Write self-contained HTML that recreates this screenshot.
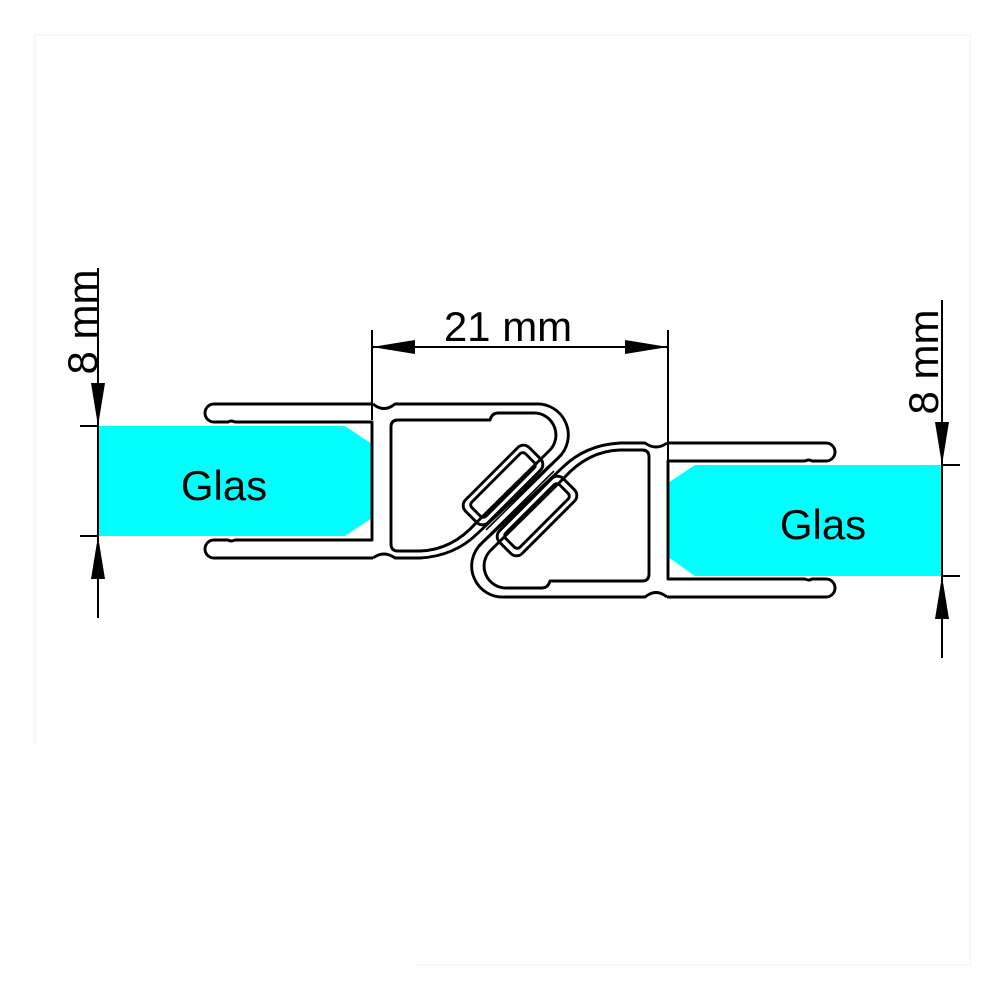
<!DOCTYPE html>
<html><head><meta charset="utf-8"><style>
html,body{margin:0;padding:0;background:#fff;}
svg{display:block;}
text{font-family:"Liberation Sans",Arial,sans-serif;fill:#000;}
</style></head><body>
<svg width="1000" height="1000" viewBox="0 0 1000 1000" xmlns="http://www.w3.org/2000/svg">
<rect width="1000" height="1000" fill="#fff"/>
<path d="M35 745 V35 H970 V965 H415" fill="none" stroke="#f2f2f2" stroke-width="1"/>
<!-- glass -->
<polygon points="98,426 345,426 372,444 372,518 345,536 98,536" fill="#00ffff"/>
<polygon points="942,465 695,465 668,483 668,557 695,576 942,576" fill="#00ffff"/>
<text x="224" y="500" font-size="42" text-anchor="middle">Glas</text>
<text x="823" y="539" font-size="42" text-anchor="middle">Glas</text>

<g id="half" fill="none" stroke="#000" stroke-width="2.9" stroke-linejoin="round">
  <path d="M373 404 H214 A9 9 0 0 0 214 422 H228 Q231 420 235 422 H372 V540 H235 Q231 542 228 540 H214 A9 9 0 0 0 214 558 H373"/>
  <path d="M373 404 Q384 413 395 404 H535 A31 31 0 0 1 558 458 L478 533 Q455 556 420 558 H395 Q384 550 373 558"/>
  <path d="M398 420 H490 Q492 413 498 413 H533 A22 22 0 0 1 549 451 L476 523 Q452 550 420 551 H398 Q391 551 391 544 V427 Q391 420 398 420 Z"/>
  <rect x="-45" y="-16" width="90" height="32" rx="8" transform="translate(503,485) rotate(-45)"/>
  <rect x="-38" y="-10" width="76" height="20" rx="4" transform="translate(503,485) rotate(-45)"/>
  <line x1="486" y1="530" x2="562" y2="455" stroke-width="1.6"/>
</g>
<use href="#half" transform="rotate(180 520 500.5)"/>

<g stroke="#000" stroke-width="2">
  <line x1="98" y1="268" x2="98" y2="618"/>
  <line x1="80" y1="426" x2="98" y2="426"/>
  <line x1="80" y1="536" x2="98" y2="536"/>
  <line x1="942" y1="300" x2="942" y2="658"/>
  <line x1="942" y1="465" x2="960" y2="465"/>
  <line x1="942" y1="576" x2="960" y2="576"/>
  <line x1="372" y1="330" x2="372" y2="420"/>
  <line x1="668" y1="330" x2="668" y2="460"/>
  <line x1="372" y1="347" x2="668" y2="347"/>
</g>
<g fill="#000">
  <polygon points="91,383 105,383 98,426"/>
  <polygon points="91,579 105,579 98,536"/>
  <polygon points="935,422 949,422 942,465"/>
  <polygon points="935,619 949,619 942,576"/>
  <polygon points="372,347 415,340 415,354"/>
  <polygon points="668,347 625,340 625,354"/>
</g>
<text transform="translate(97,322) rotate(-90)" font-size="42" text-anchor="middle">8 mm</text>
<text transform="translate(938,362) rotate(-90)" font-size="42" text-anchor="middle">8 mm</text>
<text x="508" y="341" font-size="42" text-anchor="middle">21 mm</text>
</svg>
</body></html>
